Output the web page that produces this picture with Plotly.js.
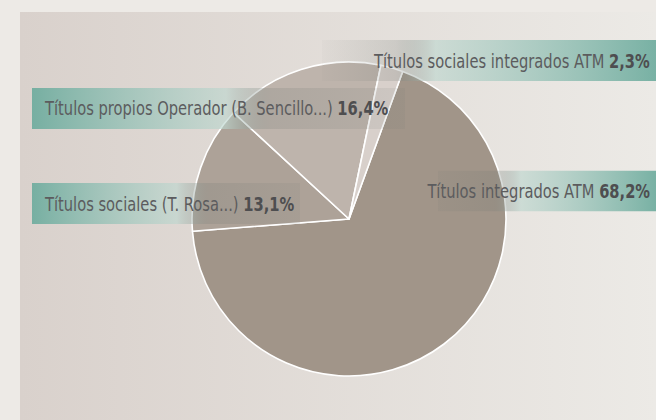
<!DOCTYPE html>
<html>
<head>
<meta charset="utf-8">
<script src="https://cdn.plot.ly/plotly-3.0.1.min.js"></script>
<style>
html,body{margin:0;padding:0;background:#EDEAE6;}
#chart{width:656px;height:420px;}
</style>
</head>
<body>
<div id="chart"></div>
<script>
// ---- data ----
const categories = [
  'Títulos integrados ATM',
  'Títulos sociales (T. Rosa...)',
  'Títulos propios Operador (B. Sencillo...)',
  'Títulos sociales integrados ATM'
];
const shares = [68.2, 13.1, 16.4, 2.3];
const shareLabels = ['68,2%', '13,1%', '16,4%', '2,3%'];

// ---- styling ----
const sliceColors = ['#A19589', '#ADA298', '#BEB4AC', '#D8D0CB'];
const W = 656, H = 420;
const FONT = "'Liberation Sans Narrow', 'DejaVu Sans Condensed', 'Roboto Condensed', 'Arial Narrow', 'Liberation Sans', sans-serif";
const TEXT_SCALE_X = 0.86;

function svgUri(svg){ return 'data:image/svg+xml;charset=utf-8,' + encodeURIComponent(svg); }

function gradSvg(stops, reverse){
  const x1 = reverse ? '1' : '0', x2 = reverse ? '0' : '1';
  const st = stops.map(s => `<stop offset="${s[0]}" stop-color="${s[1]}" stop-opacity="${s[2]}"/>`).join('');
  return svgUri(`<svg xmlns="http://www.w3.org/2000/svg" width="100" height="10" viewBox="0 0 100 10" preserveAspectRatio="none"><defs><linearGradient id="g" x1="${x1}" y1="0" x2="${x2}" y2="0">${st}</linearGradient></defs><rect x="0" y="0" width="100" height="10" fill="url(#g)"/></svg>`);
}
function boxStops(p, endAlpha){
  return [[0,'#6EAC9E',0.92],[p-0.06,'#BCD6CE',0.62],[p+0.06,'#6E7570',0.2],[1,'#6E7570',endAlpha]];
}
function img(src, left, top, w, h, layer){
  return {source: src, xref:'paper', yref:'paper', x:left/W, y:(H-top)/H,
          sizex:w/W, sizey:h/H, sizing:'stretch', xanchor:'left', yanchor:'top', layer: layer};
}

const panel = svgUri('<svg xmlns="http://www.w3.org/2000/svg" width="100" height="10" viewBox="0 0 100 10" preserveAspectRatio="none"><defs><linearGradient id="p" x1="0" y1="0" x2="1" y2="0"><stop offset="0" stop-color="#D9D1CC"/><stop offset="1" stop-color="#ECEAE6"/></linearGradient></defs><rect width="100" height="10" fill="url(#p)"/></svg>');

// label boxes: [category index, left, top, width, height, reverse, light stop, end alpha]
const boxes = [
  [2, 32, 88, 373, 41, false, 0.58, 0.1],
  [1, 32, 183, 268, 41, false, 0.60, 0.1],
  [3, 322, 40, 334, 41, true, 0.72, 0.03],
  [0, 438, 170.5, 218, 41, true, 0.68, 0.1]
];

const images = [img(panel, 20, 12, 636, 408, 'below')];
const annotations = [];
boxes.forEach(b => {
  const [i, left, top, w, h, rev, p, ea] = b;
  images.push(img(gradSvg(boxStops(p, ea), rev), left, top, w, h, 'above'));
  const cy = top + h/2;
  annotations.push({
    xref:'paper', yref:'paper',
    x: rev ? 652/W : 42/W, xanchor: rev ? 'right' : 'left',
    y: (H-cy)/H, yanchor:'middle',
    showarrow:false,
    text: categories[i] + ' <b style="color:#4E4E50">' + shareLabels[i] + '</b>',
    font:{family:FONT, size:19, color:'#5C5C5E'}
  });
});

const cx = 349, cyP = 219, R = 157;
const trace = {
  type:'pie',
  labels: categories,
  values: shares,
  sort:false,
  direction:'clockwise',
  rotation:20,
  textinfo:'none',
  hoverinfo:'skip',
  showlegend:false,
  marker:{colors:sliceColors, line:{color:'#FFFFFF', width:1.6}},
  domain:{x:[(cx-R)/W, (cx+R)/W], y:[(H-cyP-R)/H, (H-cyP+R)/H]}
};

const layout = {
  width:W, height:H,
  margin:{l:0,r:0,t:0,b:0},
  paper_bgcolor:'#EDEAE6',
  plot_bgcolor:'rgba(0,0,0,0)',
  showlegend:false,
  images: images,
  annotations: annotations
};

Plotly.newPlot('chart', [trace], layout, {displayModeBar:false, staticPlot:true}).then(gd => {
  // condense the label text horizontally, keeping its anchored edge in place
  gd.querySelectorAll('.annotation').forEach((g, k) => {
    const t = g.querySelector('text.annotation-text');
    if(!t) return;
    const bb = t.getBBox();
    const rev = boxes[k][5];
    const ax = rev ? bb.x + bb.width : bb.x;
    const prev = t.getAttribute('transform') || '';
    t.setAttribute('transform', `${prev} translate(${ax},0) scale(${TEXT_SCALE_X},1) translate(${-ax},0)`);
  });
});
</script>
</body>
</html>
